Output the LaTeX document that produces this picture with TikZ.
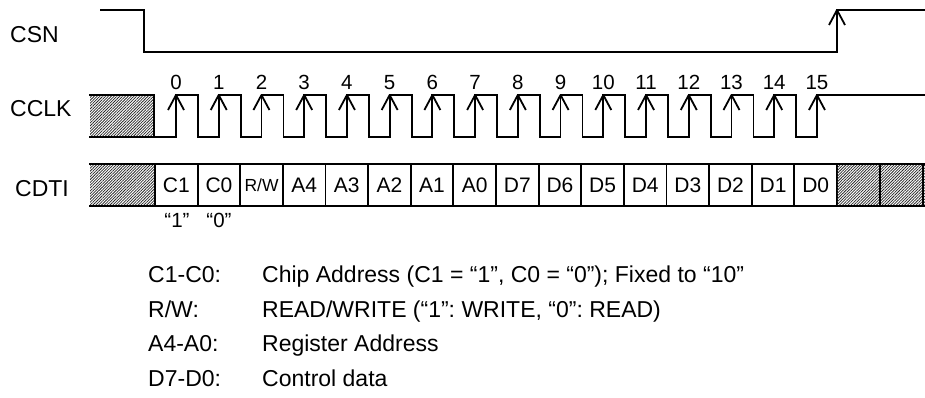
\documentclass[tikz,border=0pt]{standalone}
\usepackage{fontspec}
\setmainfont{Liberation Sans}
\usetikzlibrary{patterns.meta}
\begin{document}
\frenchspacing
\begin{tikzpicture}[x=1pt,y=-1pt,
  sig/.style={line width=1.8pt, line join=miter, line cap=rect},
  barb/.style={line width=1.8pt, line join=round},
  hatch/.style={pattern={Lines[angle=45,distance=2pt,line width=0.75pt]}, pattern color=black!85},
  lbl/.style={font=\fontsize{23}{27}\selectfont, anchor=base west, inner sep=0pt},
  num/.style={font=\fontsize{20.5}{24}\selectfont, inner sep=0pt, anchor=base},
  cell/.style={draw, line width=1.8pt, minimum width=42.625pt, minimum height=42pt, inner sep=0pt, font=\fontsize{21}{25}\selectfont},
  quote/.style={font=\fontsize{20.5}{24}\selectfont, inner sep=0pt, anchor=base},
  leg/.style={font=\fontsize{23}{28}\selectfont, anchor=base west, inner sep=0pt}]
\useasboundingbox (0,0) rectangle (925,397);

% labels
\node[lbl] (csn) at (10,42) {CSN};
\node[lbl] (cclk) at (10,116.5) {CCLK};
\node[lbl] (cdti) at (15,196.5) {CDTI};

% CSN
\draw[sig] (101,10) -- (144,10) -- (144,52) -- (837,52) -- (837,10) -- (925,10);
\draw[barb] (829,25) -- (837,10) -- (845,25);

% CCLK hatched
\fill[hatch] (90,95) rectangle (154,137);
\draw[sig] (90,95) -- (154,95) -- (154,137);
\draw[sig] (90,137) -- (154,137);
% clock
\draw[sig] (154,137)
  \foreach \k in {0,...,14} {
    -- ({176+42.73*\k},137) -- ({176+42.73*\k},95) -- ({198+42.73*\k},95) -- ({198+42.73*\k},137)
  } -- (817,137) -- (817,95) -- (925,95);
\foreach \k in {0,...,15} {
  \draw[barb] ({176+42.73*\k-8},110) -- ({176+42.73*\k},95) -- ({176+42.73*\k+8},110);
  \node[num] (n\k) at ({176+42.73*\k},89) {\k};
}

% CDTI
\fill[hatch] (90,164) rectangle (155,206);
\draw[sig] (90,164) -- (155,164);
\draw[sig] (90,206) -- (155,206);
\foreach \lab [count=\i from 0] in {C1,C0,,A4,A3,A2,A1,A0,D7,D6,D5,D4,D3,D2,D1,D0} {
  \node[cell] (c\i) at ({155+42.625*\i+21.3125},185) {\lab};
}
\node[font=\fontsize{17.5}{20}\selectfont, inner sep=0pt] (rw) at (c2.center) {R/W};
\fill[hatch] (837,164) rectangle (925,206);
\draw[sig] (837,164) -- (925,164);
\draw[sig] (837,206) -- (925,206);
\draw[sig] (880,164) -- (880,206);
\draw[sig] (923,164) -- (923,206);

\node[quote] (q1) at (177,227) {“1”};
\node[quote] (q0) at (219,227) {“0”};

% legend
\node[leg] (l1a) at (148,282.5) {C1-C0:};
\node[leg] (l1b) at (262,282.5) {Chip Address (C1 = “1”, C0 = “0”); Fixed to “10”};
\node[leg] (l2a) at (148,317) {R/W:};
\node[leg] (l2b) at (262,317) {READ/WRITE (“1”: WRITE, “0”: READ)};
\node[leg] (l3a) at (148,351.7) {A4-A0:};
\node[leg] (l3b) at (262,351.7) {Register Address};
\node[leg] (l4a) at (148,386.5) {D7-D0:};
\node[leg] (l4b) at (262,386.5) {Control data};
\end{tikzpicture}
\end{document}
